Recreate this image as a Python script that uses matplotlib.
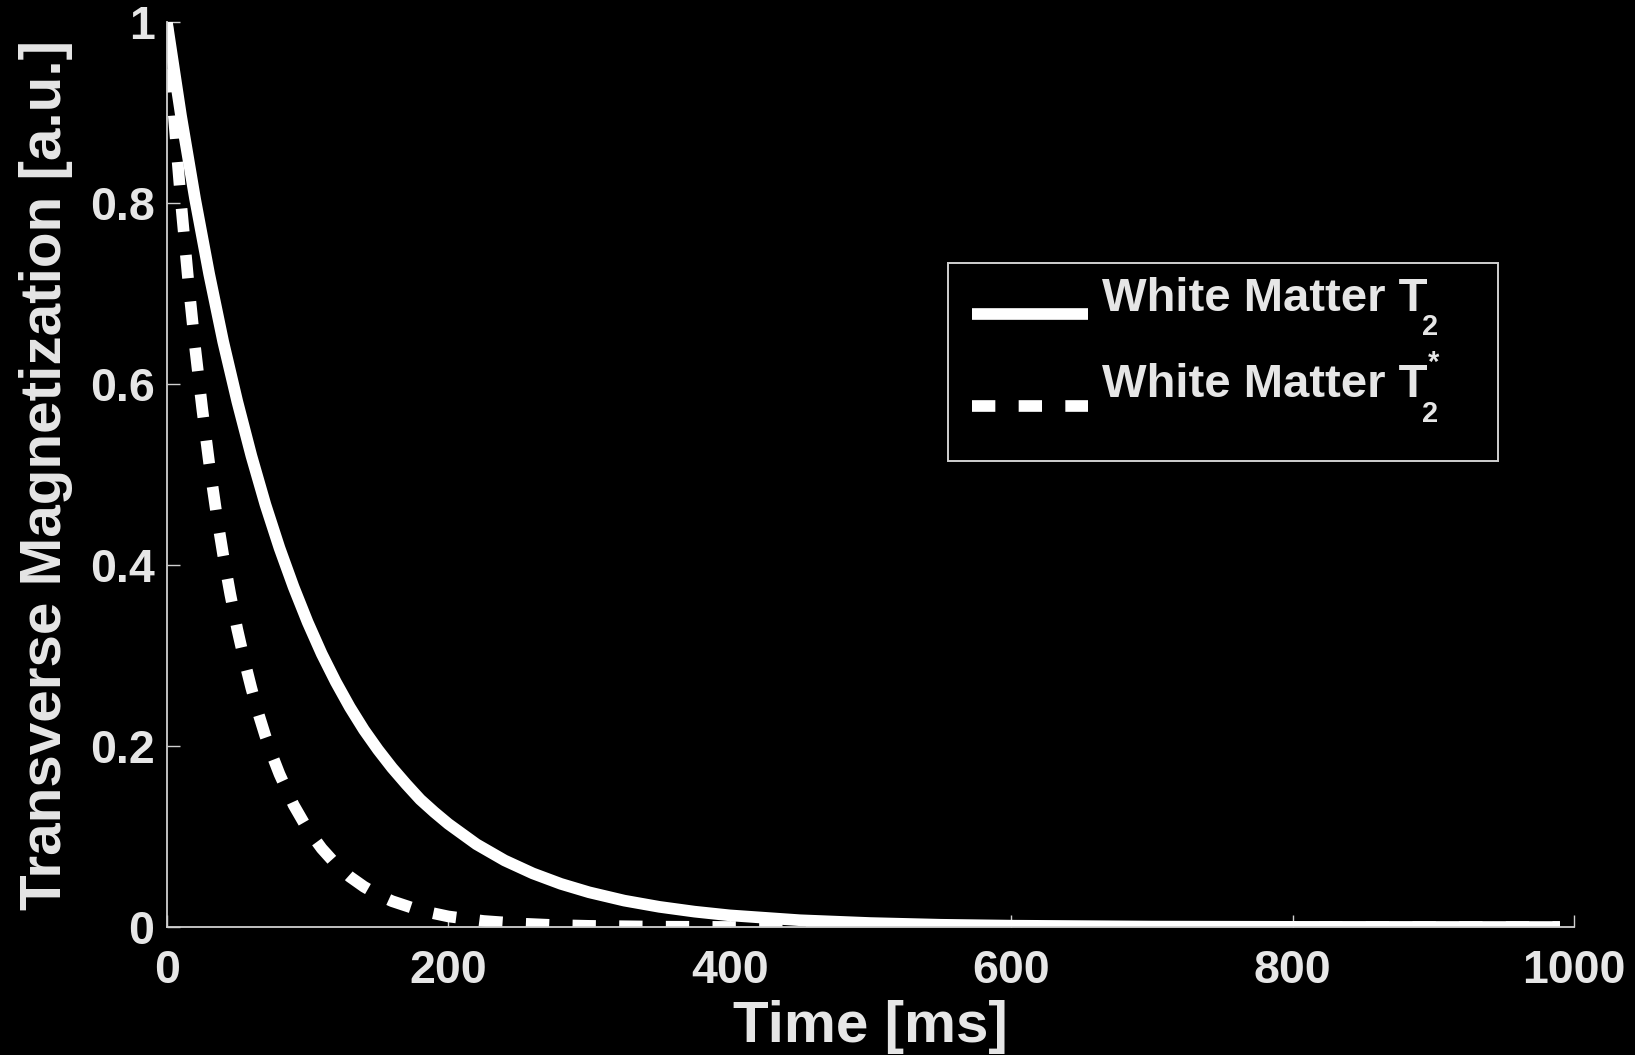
import numpy as np
import matplotlib
matplotlib.use("Agg")
import matplotlib.pyplot as plt
from matplotlib.legend_handler import HandlerLine2D
from matplotlib.patches import Rectangle
from matplotlib.transforms import IdentityTransform

# ---- data ----
t_wm_t2 = [0, 10, 20, 30, 40, 50, 60, 70, 80, 90, 100, 110, 120, 130, 140, 150,
           160, 170, 180, 190, 200, 220, 240, 260, 280, 300, 325, 350, 375, 400,
           450, 500, 550, 600, 700, 800, 900, 990]
m_wm_t2 = [1.000, 0.897, 0.805, 0.722, 0.647, 0.581, 0.521, 0.467, 0.419, 0.376,
           0.337, 0.302, 0.271, 0.243, 0.218, 0.196, 0.176, 0.158, 0.141, 0.127,
           0.114, 0.0915, 0.0736, 0.0593, 0.0477, 0.0384, 0.0292, 0.0223, 0.0170,
           0.0129, 0.0075, 0.0044, 0.0025, 0.0015, 0.0005, 0.0002, 0.0001, 0.0000]

t_wm_t2s = [0, 5, 10, 15, 20, 25, 30, 35, 40, 45, 50, 55, 60, 65, 70, 75, 80, 90,
            100, 110, 120, 130, 140, 150, 160, 180, 200, 225, 250, 275, 300, 350,
            400, 500, 600, 700, 800, 900, 990]
m_wm_t2s = [1.000, 0.895, 0.801, 0.717, 0.641, 0.574, 0.513, 0.459, 0.411, 0.368,
            0.329, 0.295, 0.264, 0.236, 0.211, 0.189, 0.169, 0.135, 0.108, 0.0868,
            0.0695, 0.0556, 0.0446, 0.0357, 0.0286, 0.0183, 0.0117, 0.0067, 0.0039,
            0.0022, 0.0013, 0.0004, 0.0001, 0.0000, 0.0000, 0.0000, 0.0000, 0.0000,
            0.0000]

legend_base = ["White Matter T", "White Matter T"]
legend_sub = ["2", "2"]
legend_sup = ["", "*"]
x_ticks = [0, 200, 400, 600, 800, 1000]
y_ticks = [0, 0.2, 0.4, 0.6, 0.8, 1.0]
y_ticklabels = ["0", "0.2", "0.4", "0.6", "0.8", "1"]
xlabel = "Time [ms]"
ylabel = "Transverse Magnetization [a.u.]"

# ---- style ----
plt.rcParams["font.family"] = ["Liberation Sans", "DejaVu Sans"]
plt.rcParams["font.weight"] = "bold"
TXT = "#e6e6e6"
AX = "#d0d0d0"
W, H = 1635, 1055
LEG_FS = 34
SUB_FS = 21

fig = plt.figure(figsize=(W / 100, H / 100), dpi=100, facecolor="black")
ax = fig.add_axes([0.1021, 0.1213, 0.8606, 0.8574], facecolor="black")

lw = 8.4
l1, = ax.plot(t_wm_t2, m_wm_t2, color="white", lw=lw, solid_capstyle="butt")
l2, = ax.plot(t_wm_t2s, m_wm_t2s, color="white", lw=lw, dashes=(2.0, 2.0),
              dash_capstyle="butt")

ax.set_xlim(0, 1000)
ax.set_ylim(0, 1)
ax.set_xticks(x_ticks)
ax.set_xticklabels([str(v) for v in x_ticks])
ax.set_yticks(y_ticks)
ax.set_yticklabels(y_ticklabels)

for s in ["top", "right"]:
    ax.spines[s].set_visible(False)
for s in ["left", "bottom"]:
    ax.spines[s].set_color(AX)
    ax.spines[s].set_linewidth(1.3)

ax.tick_params(axis="both", direction="in", length=9, width=1.0, color=AX,
               labelcolor=TXT, labelsize=33.5)
ax.tick_params(axis="x", pad=16)
ax.tick_params(axis="y", pad=9)
for lab in ax.get_xticklabels() + ax.get_yticklabels():
    lab.set_fontweight("bold")

ax.set_xlabel(xlabel, fontsize=42, fontweight="bold", color=TXT, labelpad=5)
ax.set_ylabel(ylabel, fontsize=42, fontweight="bold", color=TXT, labelpad=12)


class ShiftedLineHandler(HandlerLine2D):
    def __init__(self, shift, **kw):
        super().__init__(**kw)
        self.shift = shift

    def create_artists(self, legend, orig_handle, xdescent, ydescent, width,
                       height, fontsize, trans):
        arts = super().create_artists(legend, orig_handle, xdescent, ydescent,
                                      width, height, fontsize, trans)
        for a in arts:
            yd = np.asarray(a.get_ydata(), dtype=float)
            a.set_ydata(yd - self.shift * fontsize)
        return arts


# target positions (display px, origin bottom-left)
T_BASE1 = H - 310.7
ROW_GAP = 86.6
HANDLE_LEFT = 971.7


def make_legend(ls, anchor):
    return ax.legend([l1, l2], legend_base, loc="upper left",
                     bbox_to_anchor=anchor, bbox_transform=IdentityTransform(),
                     borderaxespad=0, borderpad=0, fontsize=LEG_FS,
                     frameon=False, handlelength=2.47, handletextpad=0.284,
                     labelspacing=ls, labelcolor=TXT,
                     handler_map={l1: ShiftedLineHandler(0.424),
                                  l2: ShiftedLineHandler(0.538)})


def measure(leg):
    fig.canvas.draw()
    r = fig.canvas.get_renderer()
    out = []
    for t in leg.get_texts():
        bb = t.get_window_extent(r)
        _, _, d = r.get_text_width_height_descent("lp", t.get_fontproperties(),
                                                 ismath=False)
        out.append((bb.x0, bb.x1, bb.y0 + d))
    return out


ls = 0.9
anchor = (HANDLE_LEFT, H - 265)
leg = make_legend(ls, anchor)
m = measure(leg)
fs_px = LEG_FS * 100 / 72
ls = ls + (ROW_GAP - (m[0][2] - m[1][2])) / fs_px
leg.remove()
leg = make_legend(ls, anchor)
m = measure(leg)
anchor = (anchor[0], anchor[1] + (T_BASE1 - m[0][2]))
leg.remove()
leg = make_legend(ls, anchor)
for t in leg.get_texts():
    t.set_fontweight("bold")
m = measure(leg)

# legend frame
ax.add_patch(Rectangle((948.3 / W, (H - 460.7) / H), (1497.7 - 948.3) / W,
                       (460.7 - 263.3) / H, transform=fig.transFigure,
                       facecolor="black", edgecolor=AX, lw=1.4, zorder=4,
                       clip_on=False))

# subscripts / superscripts of the legend labels (MATLAB TeX style)
for (x0, x1, base), sub, sup in zip(m, legend_sub, legend_sup):
    fig.text((x1 - 5) / W, (base - 2.6) / H, sub, fontsize=SUB_FS,
             fontweight="bold", color=TXT, ha="left", va="top")
    if sup:
        fig.text((x1 + 0.5) / W, (base + 48) / H, sup, fontsize=SUB_FS,
                 fontweight="bold", color=TXT, ha="left", va="top")

fig.savefig("out.png", dpi=100, facecolor="black")
